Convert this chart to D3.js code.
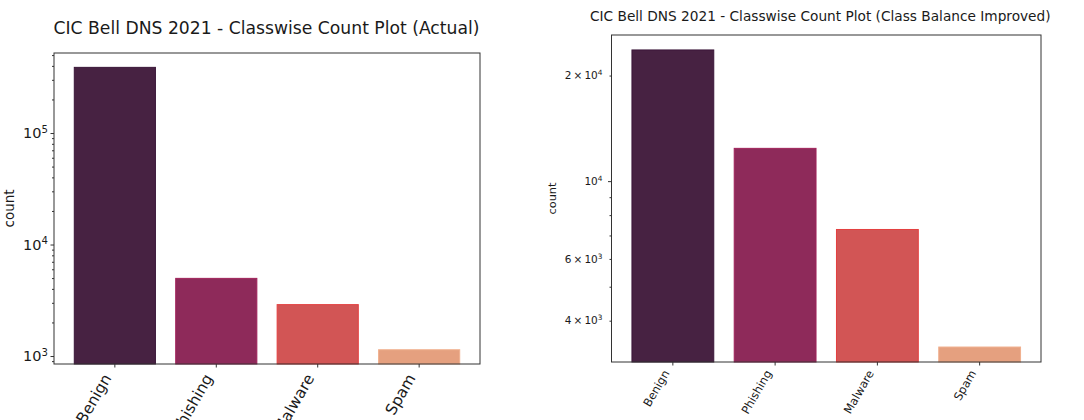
<!DOCTYPE html>
<html>
<head>
<meta charset="utf-8">
<script src="https://cdn.jsdelivr.net/npm/d3@7"></script>
<style>
  body { margin: 0; background: #fff; }
  svg text { font-family: "DejaVu Sans", sans-serif; fill: #1a1a1a; }
  .axis path, .axis line { stroke: #333; }
</style>
</head>
<body>
<div id="container"></div>
<script>
// DATA
const classes = ["Benign", "Phishing", "Malware", "Spam"];
const actualCounts = [388000, 4970, 2890, 1138];
const balancedCounts = [23660, 12400, 7280, 3365];
const actualTickLabels = [1e3, 1e4, 1e5];
const balancedTickLabels = [4e3, 6e3, 1e4, 2e4];
const fills = ["#472242", "#8e2a5a", "#d25555", "#e5a07f"];
const edges = ["#3a1638", "#a0225a", "#e33f3f", "#f0b08e"];

const width = 1084, height = 420;

const svg = d3.select("#container")
    .append("svg")
    .attr("width", width)
    .attr("height", height);

// one panel = one seaborn countplot
function drawPanel(opt) {
    const m = opt.box; // left, top, right, bottom (pixel box of axes)

    const xScale = d3.scaleBand()
        .domain(classes)
        .range([m.left, m.right])
        .padding(0.2);

    const yScale = d3.scaleLog()
        .domain(opt.domain)
        .range([m.bottom, m.top]);

    const g = svg.append("g");

    // bars
    g.selectAll("rect.bar")
        .data(opt.counts)
        .enter()
        .append("rect")
        .attr("class", "bar")
        .attr("x", (d, i) => xScale(classes[i]))
        .attr("y", d => yScale(d))
        .attr("width", xScale.bandwidth())
        .attr("height", d => m.bottom - yScale(d))
        .attr("fill", (d, i) => fills[i])
        .attr("stroke", (d, i) => edges[i])
        .attr("stroke-width", 1);

    // frame
    g.append("rect")
        .attr("x", m.left)
        .attr("y", m.top)
        .attr("width", m.right - m.left)
        .attr("height", m.bottom - m.top)
        .attr("fill", "none")
        .attr("stroke", "#333")
        .attr("stroke-width", 1);

    // y ticks (major at decades, minor otherwise)
    const allTicks = yScale.ticks();
    const isMajor = v => Math.abs(Math.log10(v) - Math.round(Math.log10(v))) < 1e-9;

    const yAxis = g.append("g")
        .attr("class", "axis")
        .attr("transform", `translate(${m.left},0)`)
        .call(d3.axisLeft(yScale).tickValues(allTicks).tickFormat("").tickSizeOuter(0));
    yAxis.select(".domain").remove();
    yAxis.selectAll(".tick line")
        .attr("x2", d => isMajor(d) ? -3.5 : -2);

    // y tick labels with superscripts
    const lab = g.selectAll("text.ylab")
        .data(opt.tickLabels)
        .enter()
        .append("text")
        .attr("class", "ylab")
        .attr("x", m.left - opt.tickGap)
        .attr("y", d => yScale(d))
        .attr("dy", "0.35em")
        .attr("text-anchor", "end")
        .style("font-size", opt.tickFont + "px");
    lab.each(function(d) {
        const e = Math.floor(Math.log10(d) + 1e-9);
        const mant = Math.round(d / Math.pow(10, e));
        const t = d3.select(this);
        t.append("tspan").text(mant === 1 ? "10" : mant + "\u2009\u00d7\u200910");
        t.append("tspan")
            .attr("dy", "-0.55em")
            .style("font-size", "0.7em")
            .text(e);
    });

    // x axis
    const xAxis = g.append("g")
        .attr("class", "axis")
        .attr("transform", `translate(0,${m.bottom})`)
        .call(d3.axisBottom(xScale).tickSize(3.5).tickSizeOuter(0));
    xAxis.select(".domain").remove();
    xAxis.selectAll("text")
        .attr("y", 0).attr("dy", 0)
        .attr("transform", `translate(-3,${opt.xLabOff})rotate(-60)`)
        .style("text-anchor", "end")
        .style("font-size", opt.xFont + "px")
        .style("font-family", "DejaVu Sans")
        .attr("fill", "#1a1a1a");

    // y label
    svg.append("text")
        .attr("transform", `translate(${opt.yLabX},${(m.top + m.bottom) / 2})rotate(-90)`)
        .attr("text-anchor", "middle")
        .style("font-size", opt.labFont + "px")
        .text("count");

    // title
    svg.append("text")
        .attr("x", opt.titleX)
        .attr("y", opt.titleY)
        .attr("text-anchor", "middle")
        .style("font-size", opt.titleFont + "px")
        .text(opt.title);
}

drawPanel({
    box: {left: 54, top: 53, right: 480, bottom: 364},
    domain: [848, 522000],
    counts: actualCounts,
    tickLabels: actualTickLabels,
    tickFont: 14.5, tickGap: 6, xFont: 15.5, labFont: 13.5, titleFont: 17.2,
    xLabOff: 14, yLabX: 14,
    titleX: 266.5, titleY: 33.5,
    title: "CIC Bell DNS 2021 - Classwise Count Plot (Actual)"
});

drawPanel({
    box: {left: 611.5, top: 35, right: 1041, bottom: 362},
    domain: [3050, 26100],
    counts: balancedCounts,
    tickLabels: balancedTickLabels,
    tickFont: 10.5, tickGap: 9, xFont: 11.5, labFont: 11.3, titleFont: 13.7,
    xLabOff: 11, yLabX: 555.5,
    titleX: 820.3, titleY: 21.2,
    title: "CIC Bell DNS 2021 - Classwise Count Plot (Class Balance Improved)"
});
</script>
</body>
</html>
